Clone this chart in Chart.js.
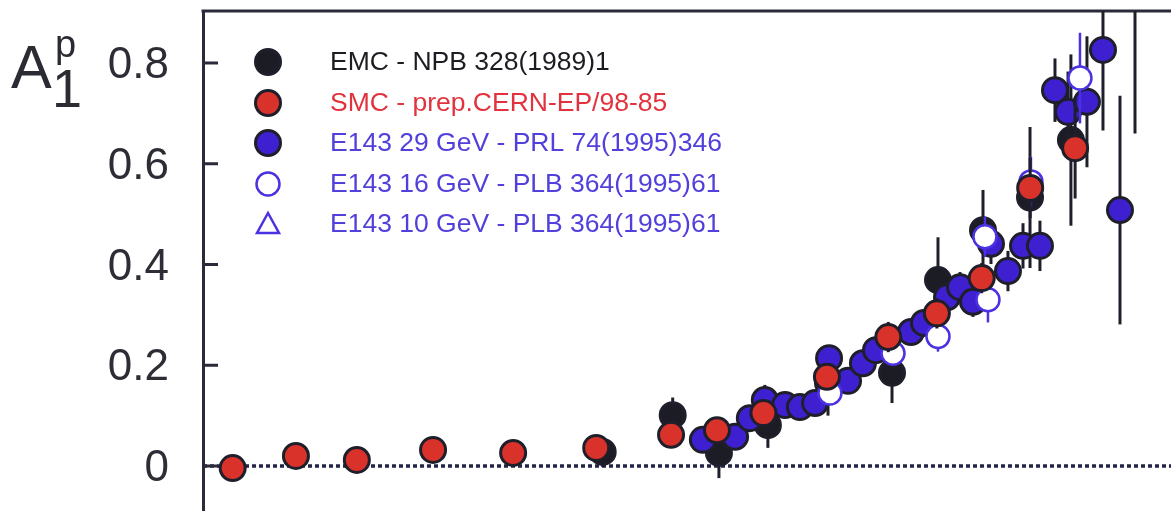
<!DOCTYPE html>
<html>
<head>
<meta charset="utf-8">
<title>A1p</title>
<script src="https://cdn.jsdelivr.net/npm/chart.js@4/dist/chart.umd.min.js"></script>
<style>
  html, body { margin: 0; padding: 0; background: #fff; }
  #wrap { position: relative; width: 1171px; height: 511px; }
</style>
</head>
<body>
<div id="wrap"><canvas id="chart"></canvas></div>
<script>
// EMC - NPB 328(1989)1
const emcX = [0.0153, 0.0254, 0.0355, 0.0506, 0.0782, 0.1243, 0.1734, 0.2402, 0.3376, 0.454];
const emcY = [0.028, 0.101, 0.026, 0.081, 0.165, 0.185, 0.369, 0.468, 0.533, 0.647];
const emcErr = [0.03, 0.035, 0.05, 0.045, 0.065, 0.06, 0.085, 0.08, 0.14, 0.17];

// SMC - prep.CERN-EP/98-85
const smcX = [0.00105, 0.00166, 0.00258, 0.00448, 0.0080, 0.0146, 0.0251, 0.035, 0.049, 0.0776, 0.121, 0.172, 0.238, 0.338, 0.468];
const smcY = [-0.004, 0.020, 0.012, 0.032, 0.026, 0.036, 0.062, 0.071, 0.105, 0.177, 0.256, 0.303, 0.373, 0.552, 0.631];
const smcErr = [0.01, 0.01, 0.01, 0.01, 0.01, 0.015, 0.02, 0.02, 0.02, 0.025, 0.03, 0.03, 0.03, 0.06, 0.1];

// E143 29 GeV - PRL 74(1995)346
const e29X = [0.0316, 0.0399, 0.0444, 0.0495, 0.0573, 0.0638, 0.0712, 0.0788, 0.0904, 0.1007, 0.1107, 0.1426, 0.1567,
              0.1851, 0.2034, 0.2234, 0.2545, 0.2878, 0.3209, 0.3628, 0.4045, 0.4445, 0.5099, 0.5726, 0.6476, 0.722];
const e29Y = [0.052, 0.058, 0.095, 0.131, 0.121, 0.117, 0.125, 0.214, 0.169, 0.204, 0.230, 0.266, 0.284,
              0.335, 0.355, 0.326, 0.441, 0.387, 0.437, 0.437, 0.746, 0.703, 0.723, 0.826, 0.508, 1.0];
const e29Err = [0.01, 0.01, 0.015, 0.03, 0.015, 0.015, 0.015, 0.02, 0.02, 0.02, 0.02, 0.025, 0.025,
                0.03, 0.03, 0.03, 0.04, 0.04, 0.045, 0.05, 0.063, 0.08, 0.13, 0.16, 0.227, 0.34];

// E143 16 GeV - PLB 364(1995)61
const e16X = [0.0793, 0.1252, 0.1734, 0.2436, 0.249, 0.3399, 0.4847];
const e16Y = [0.145, 0.224, 0.257, 0.455, 0.330, 0.564, 0.770];
const e16Err = [0.02, 0.025, 0.03, 0.04, 0.045, 0.05, 0.09];

// E143 10 GeV - PLB 364(1995)61 (no point visible in this window)
const e10X = [];
const e10Y = [];
const e10Err = [];

const yTickValues = [0, 0.2, 0.4, 0.6, 0.8];
const yTickLabels = ['0', '0.2', '0.4', '0.6', '0.8'];

const legendNames = [
    'EMC - NPB 328(1989)1',
    'SMC - prep.CERN-EP/98-85',
    'E143 29 GeV - PRL 74(1995)346',
    'E143 16 GeV - PLB 364(1995)61',
    'E143 10 GeV - PLB 364(1995)61'
];

const dark = '#1f1f2b';
const blue = '#3e20d0';
const blueLine = '#4a32e2';

function points(xs, ys) {
    return xs.map((x, i) => ({x: x, y: ys[i]}));
}

const datasets = [
    {
        label: legendNames[0], data: points(emcX, emcY), errors: emcErr,
        pointBackgroundColor: '#1c1c24', pointBorderColor: dark, pointStyle: 'circle',
        pointRadius: 12.5, pointBorderWidth: 3, errorColor: dark, errorWidth: 3,
        textColor: '#1c1c22', order: 3
    },
    {
        label: legendNames[1], data: points(smcX, smcY), errors: smcErr,
        pointBackgroundColor: '#d8322a', pointBorderColor: dark, pointStyle: 'circle',
        pointRadius: 12.5, pointBorderWidth: 3, errorColor: dark, errorWidth: 3,
        textColor: '#e2323e', order: 0
    },
    {
        label: legendNames[2], data: points(e29X, e29Y), errors: e29Err,
        pointBackgroundColor: blue, pointBorderColor: dark, pointStyle: 'circle',
        pointRadius: 12.5, pointBorderWidth: 3, errorColor: dark, errorWidth: 3,
        textColor: '#5140dc', order: 2
    },
    {
        label: legendNames[3], data: points(e16X, e16Y), errors: e16Err,
        pointBackgroundColor: '#ffffff', pointBorderColor: blueLine, pointStyle: 'circle',
        pointRadius: 11.5, pointBorderWidth: 2.5, errorColor: blueLine, errorWidth: 2.5,
        textColor: '#5140dc', order: 1
    },
    {
        label: legendNames[4], data: points(e10X, e10Y), errors: e10Err,
        pointBackgroundColor: '#ffffff', pointBorderColor: blueLine, pointStyle: 'triangle',
        pointRadius: 12, pointBorderWidth: 2.5, errorColor: blueLine, errorWidth: 2.5,
        textColor: '#5140dc', order: 4
    }
];

// error bars go under each dataset's own markers
const errorBars = {
    id: 'errorBars',
    beforeDatasetDraw(chart, args) {
        const ds = chart.data.datasets[args.index];
        if (!ds.errors) return;
        const yScale = chart.scales.y;
        const area = chart.chartArea;
        const ctx = chart.ctx;
        ctx.save();
        ctx.beginPath();
        ctx.rect(area.left, area.top, area.right - area.left, area.bottom - area.top);
        ctx.clip();
        ctx.strokeStyle = ds.errorColor;
        ctx.lineWidth = ds.errorWidth;
        args.meta.data.forEach((pt, i) => {
            const v = ds.data[i].y;
            const e = ds.errors[i];
            ctx.beginPath();
            ctx.moveTo(pt.x, yScale.getPixelForValue(v + e));
            ctx.lineTo(pt.x, yScale.getPixelForValue(v - e));
            ctx.stroke();
        });
        ctx.restore();
    }
};

// frame, inward ticks, dotted zero line
const frame = {
    id: 'frame',
    beforeDatasetsDraw(chart) {
        const ctx = chart.ctx;
        const area = chart.chartArea;
        const yScale = chart.scales.y;
        const y0 = yScale.getPixelForValue(0);
        ctx.save();
        ctx.strokeStyle = '#23234a';
        ctx.lineWidth = 3.5;
        ctx.setLineDash([4, 3]);
        ctx.beginPath();
        ctx.moveTo(area.left, y0);
        ctx.lineTo(area.right, y0);
        ctx.stroke();
        ctx.setLineDash([]);

        ctx.strokeStyle = '#2a2a3a';
        ctx.lineWidth = 3;
        yTickValues.forEach(v => {
            const py = yScale.getPixelForValue(v);
            ctx.beginPath();
            ctx.moveTo(area.left, py);
            ctx.lineTo(area.left + 15, py);
            ctx.stroke();
        });
        ctx.beginPath();
        ctx.moveTo(area.left - 1.5, area.top);
        ctx.lineTo(area.right, area.top);
        ctx.stroke();
        ctx.restore();
    },
    afterDraw(chart) {
        const ctx = chart.ctx;
        ctx.save();
        // axis title A1p
        ctx.fillStyle = '#2b2b33';
        ctx.textBaseline = 'alphabetic';
        ctx.textAlign = 'left';
        ctx.font = '61px "Liberation Sans", Arial, sans-serif';
        ctx.fillText('A', 11, 88);
        ctx.font = '38px "Liberation Sans", Arial, sans-serif';
        ctx.fillText('p', 55, 57);
        ctx.font = '54px "Liberation Sans", Arial, sans-serif';
        ctx.fillText('1', 52, 107);

        // legend
        const rowY = [62, 103, 143, 184, 224];
        const mx = 268;
        ctx.font = '26.5px "Liberation Sans", Arial, sans-serif';
        ctx.textBaseline = 'middle';
        datasets.forEach((ds, i) => {
            const y = rowY[i];
            ctx.lineWidth = ds.pointBorderWidth;
            ctx.strokeStyle = ds.pointBorderColor;
            ctx.fillStyle = ds.pointBackgroundColor;
            if (ds.pointStyle === 'triangle') {
                ctx.beginPath();
                ctx.moveTo(mx, y - 11);
                ctx.lineTo(mx + 11, y + 9);
                ctx.lineTo(mx - 11, y + 9);
                ctx.closePath();
                ctx.stroke();
            } else {
                ctx.beginPath();
                ctx.arc(mx, y, ds.pointRadius, 0, Math.PI * 2);
                ctx.fill();
                ctx.stroke();
            }
            ctx.fillStyle = ds.textColor;
            ctx.fillText(ds.label, 330, y + 1);
        });
        ctx.restore();
    }
};

new Chart(document.getElementById('chart'), {
    type: 'scatter',
    data: { datasets: datasets },
    options: {
        responsive: true,
        maintainAspectRatio: false,
        animation: false,
        events: [],
        layout: { autoPadding: false, padding: { top: 11, left: 0, right: 0, bottom: 0 } },
        plugins: {
            legend: { display: false },
            tooltip: { enabled: false }
        },
        scales: {
            x: {
                type: 'logarithmic',
                min: 0.000847,
                max: 0.937,
                display: false
            },
            y: {
                min: -0.0893,
                max: 0.9032,
                afterFit(scale) {
                    scale.width = 203;
                    scale.paddingTop = 0;
                    scale.paddingBottom = 0;
                },
                afterBuildTicks(scale) {
                    scale.ticks = yTickValues.map(v => ({ value: v }));
                },
                ticks: {
                    callback: (v, i) => yTickLabels[i],
                    font: { family: '"Liberation Sans", Arial, sans-serif', size: 44 },
                    color: '#2d2d35',
                    padding: 34,
                    labelOffset: 3
                },
                grid: { display: false, drawTicks: false },
                border: { display: true, color: '#2a2a3a', width: 3 }
            }
        }
    },
    plugins: [errorBars, frame]
});
</script>
</body>
</html>
